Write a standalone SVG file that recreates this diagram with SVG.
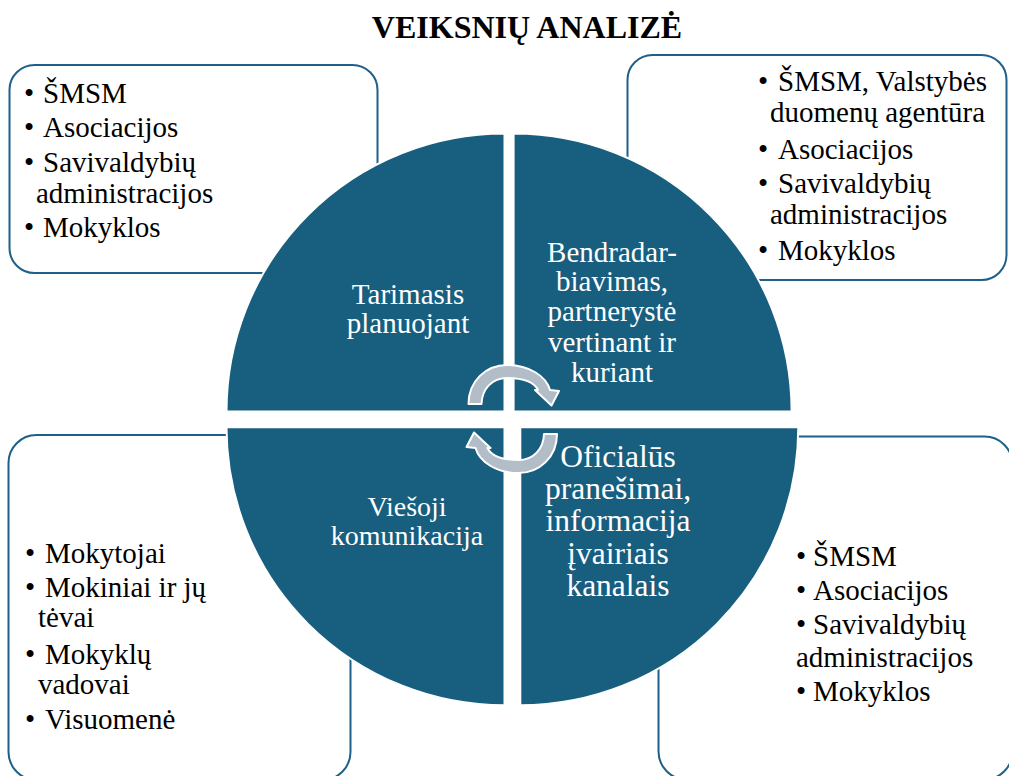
<svg xmlns="http://www.w3.org/2000/svg" width="1009" height="776" viewBox="0 0 1009 776">
  <style>
    .box { fill: #ffffff; stroke: #1F6088; stroke-width: 2; }
    .quad { fill: #185E7F; stroke: #ffffff; stroke-width: 2; }
    .t { font-family: "Liberation Serif", "Times New Roman", serif; font-size: 29px; fill: #000000; }
    .q { font-family: "Liberation Serif", "Times New Roman", serif; font-size: 29px; fill: #ffffff; text-anchor: middle; }
    .title { font-family: "Liberation Serif", "Times New Roman", serif; font-size: 32px; font-weight: bold; fill: #000000; text-anchor: middle; }
    .arrow { fill: #B3BDC8; stroke: #ffffff; stroke-width: 2; stroke-linejoin: round; }
  </style>
  <rect width="1009" height="776" fill="#ffffff"/>
  <text class="title" x="527" y="38">VEIKSNIŲ ANALIZĖ</text>

  <g id="box-top-left">
    <rect class="box" x="9.5" y="65" width="368" height="208" rx="25"/>
    <text class="t" x="24" y="103">•</text><text class="t" x="43" y="103">ŠMSM</text>
    <text class="t" x="24" y="137">•</text><text class="t" x="43" y="137">Asociacijos</text>
    <text class="t" x="24" y="172">•</text><text class="t" x="43" y="172">Savivaldybių</text>
    <text class="t" x="36" y="203">administracijos</text>
    <text class="t" x="24" y="237">•</text><text class="t" x="43" y="237">Mokyklos</text>
  </g>

  <g id="box-top-right">
    <rect class="box" x="627.5" y="55" width="379" height="225" rx="25"/>
    <text class="t" x="758" y="91">•</text><text class="t" x="778" y="91">ŠMSM, Valstybės</text>
    <text class="t" x="770" y="122">duomenų agentūra</text>
    <text class="t" x="758" y="159">•</text><text class="t" x="778" y="159">Asociacijos</text>
    <text class="t" x="758" y="193">•</text><text class="t" x="778" y="193">Savivaldybių</text>
    <text class="t" x="770" y="224">administracijos</text>
    <text class="t" x="758" y="260">•</text><text class="t" x="778" y="260">Mokyklos</text>
  </g>

  <g id="box-bottom-left">
    <rect class="box" x="8.5" y="435" width="342" height="345" rx="28"/>
    <text class="t" x="25" y="563">•</text><text class="t" x="45" y="563">Mokytojai</text>
    <text class="t" x="25" y="597">•</text><text class="t" x="45" y="597">Mokiniai ir jų</text>
    <text class="t" x="38" y="627">tėvai</text>
    <text class="t" x="25" y="664">•</text><text class="t" x="45" y="664">Mokyklų</text>
    <text class="t" x="38" y="694">vadovai</text>
    <text class="t" x="25" y="729">•</text><text class="t" x="45" y="729">Visuomenė</text>
  </g>

  <g id="box-bottom-right">
    <rect class="box" x="658.5" y="436.5" width="354" height="343" rx="28"/>
    <text class="t" x="796" y="566">•</text><text class="t" x="813" y="566">ŠMSM</text>
    <text class="t" x="796" y="600">•</text><text class="t" x="813" y="600">Asociacijos</text>
    <text class="t" x="796" y="634">•</text><text class="t" x="813" y="634">Savivaldybių</text>
    <text class="t" x="796" y="667">administracijos</text>
    <text class="t" x="796" y="701">•</text><text class="t" x="813" y="701">Mokyklos</text>
  </g>

  <g id="quad-tarimasis">
    <path class="quad" d="M504.5,411.5 L226.5,411.5 A278,278 0 0 1 504.5,133.5 Z"/>
    <text class="q" x="408" y="304">Tarimasis</text>
    <text class="q" x="408" y="333">planuojant</text>
  </g>

  <g id="quad-bendradarbiavimas">
    <path class="quad" d="M513.6,411.5 L513.6,133.5 A278,278 0 0 1 791.6,411.5 Z"/>
    <text class="q" x="612" y="262">Bendradar-</text>
    <text class="q" x="612" y="291">biavimas,</text>
    <text class="q" x="612" y="321">partnerystė</text>
    <text class="q" x="612" y="352">vertinant ir</text>
    <text class="q" x="612" y="382">kuriant</text>
  </g>

  <g id="quad-viesoji">
    <path class="quad" d="M504.5,427.3 L504.5,705.3 A278,278 0 0 1 226.5,427.3 Z"/>
    <text class="q" x="407" y="516" style="font-size:28px">Viešoji</text>
    <text class="q" x="407" y="545" style="font-size:28px">komunikacija</text>
  </g>

  <g id="quad-oficialus">
    <path class="quad" d="M520.3,427.3 L798.3,427.3 A278,278 0 0 1 520.3,705.3 Z"/>
    <text class="q" x="618" y="467" style="font-size:31.5px">Oficialūs</text>
    <text class="q" x="618" y="499" style="font-size:31.5px">pranešimai,</text>
    <text class="q" x="618" y="531" style="font-size:31.5px">informacija</text>
    <text class="q" x="618" y="564" style="font-size:31.5px">įvairiais</text>
    <text class="q" x="618" y="596" style="font-size:31.5px">kanalais</text>
  </g>

  <g id="connectors">
    <path id="arrow-top" class="arrow" d="M468.5,404 C468.5,381 486,365 507,365 C529,365 546,376 550,390 L559,391 L551.5,405.5 L535,390 L538,390 C534,382 522,378 507,378 C492,378 482,389 481.5,404 Z"/>
    <path id="arrow-bottom" class="arrow" transform="rotate(180 512.75 419)" d="M468.5,404 C468.5,381 486,365 507,365 C529,365 546,376 550,390 L559,391 L551.5,405.5 L535,390 L538,390 C534,382 522,378 507,378 C492,378 482,389 481.5,404 Z"/>
  </g>
</svg>
